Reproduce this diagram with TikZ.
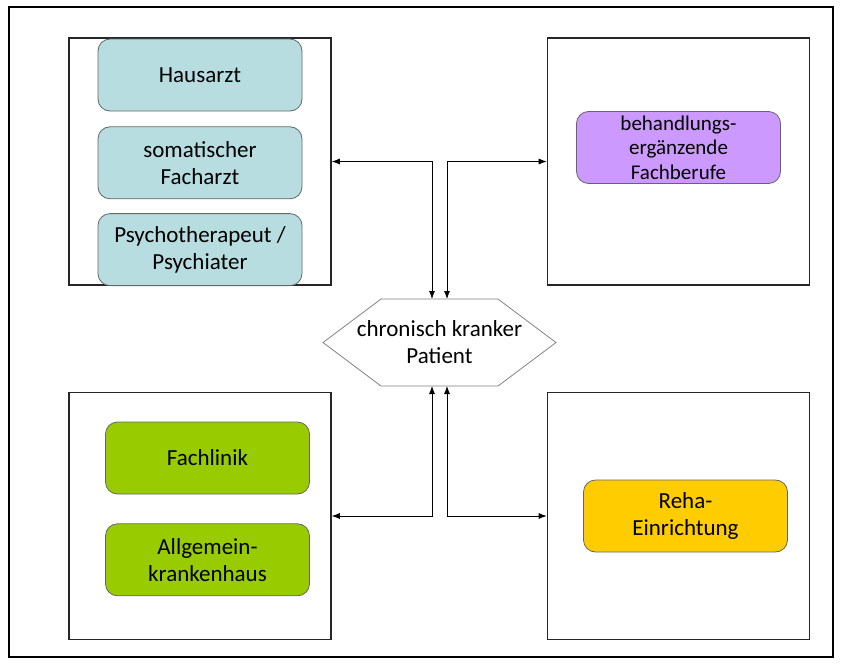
\documentclass[tikz,border=0pt]{standalone}
\usepackage{fontspec}
\setmainfont{Carlito}
\usepackage{tikz}
\usetikzlibrary{shapes,arrows.meta,positioning}
\definecolor{hausblue}{HTML}{B7DDE1}
\definecolor{lilac}{HTML}{CC99FF}
\definecolor{klinikgreen}{HTML}{99CC00}
\definecolor{rehayellow}{HTML}{FFCC00}

\begin{document}
\begin{tikzpicture}[>={Latex[length=8pt,width=6pt]}, x=1pt, y=-1pt,
    frame/.style = {shape=rectangle, draw=black!85, line width=1.6pt, minimum width=262pt, minimum height=247pt},
    unit/.style = {shape=rectangle, rounded corners=12pt, draw=black!60, line width=0.8pt, align=center, minimum width=204pt, minimum height=72pt, inner sep=2pt, font=\fontsize{23}{27}\selectfont},
    link/.style = {line width=0.8pt, <->}
    ]
\useasboundingbox (0,0) rectangle (841,664);
\draw[line width=2pt] (9,7) rectangle (833,657);
% four groups
\node[frame](group1) at (200,161.5) {};
\node[frame](group2) at (678.5,161.5) {};
\node[frame](group3) at (200,516) {};
\node[frame](group4) at (678.5,516) {};
% doctors
\node[unit, fill=hausblue](point1) at (200,75) {Hausarzt};
\node[unit, fill=hausblue, below=15pt of point1](point2) {somatischer\\Facharzt};
\node[unit, fill=hausblue, below=14pt of point2](point3) {Psychotherapeut /\\Psychiater};
\node[unit, fill=lilac, font=\fontsize{21}{24.5}\selectfont](point4) at (678.5,147.5) {behandlungs-\\ergänzende\\Fachberufe};
% clinics
\node[unit, fill=klinikgreen](point5) at (207.5,458) {Fachlinik};
\node[unit, fill=klinikgreen, below=29pt of point5](point6) {Allgemein-\\krankenhaus};
\node[unit, fill=rehayellow](point7) at (685.5,516) {Reha-\\Einrichtung};
% patient
\node[align=center, font=\fontsize{23}{27}\selectfont](patient) at (439.5,342.5) {chronisch kranker\\Patient};
\draw[black!50, line width=0.8pt] (patient.center) ++(-116.5,0) -- ++(58,-43.5) -- ++(117,0) -- ++(58,43.5) -- ++(-58,43.5) -- ++(-117,0) -- cycle;
\coordinate[yshift=43.5pt](ptop) at (patient.center);
\coordinate[yshift=-43.5pt](pbottom) at (patient.center);
\draw[link] (group1.east) -| ([xshift=-7.5pt]ptop);
\draw[link] (group2.west) -| ([xshift=7.5pt]ptop);
\draw[link] (group3.east) -| ([xshift=-7.5pt]pbottom);
\draw[link] (group4.west) -| ([xshift=7.5pt]pbottom);
\end{tikzpicture}
\end{document}
